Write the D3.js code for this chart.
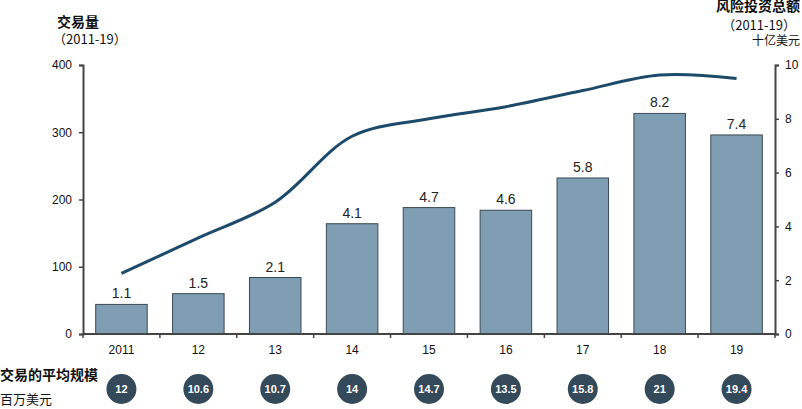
<!DOCTYPE html>
<html><head><meta charset="utf-8">
<script src="https://cdnjs.cloudflare.com/ajax/libs/d3/7.8.5/d3.min.js"></script>
<style>body{margin:0;background:#fff}svg{display:block;font-family:"Liberation Sans",Arial,sans-serif}</style>
</head><body><svg id="c" width="802" height="409"></svg>
<script>
const years = ["2011","12","13","14","15","16","17","18","19"];
const investment = [1.1,1.5,2.1,4.1,4.7,4.6,5.8,8.2,7.4];      // 十亿美元 (bars, right axis)
const dealCount = [90,143,196,294,320,338,362,385,380];        // 交易量 (line, left axis)
const avgSize = ["12","10.6","10.7","14","14.7","13.5","15.8","21","19.4"]; // 百万美元
const leftTicks = [0,100,200,300,400];
const rightTicks = [0,2,4,6,8,10];

const svg = d3.select("#c");
const m = {l:83, r:27, t:65, b:75};
const W = 802, H = 409;
const x = d3.scaleBand().domain(years).range([m.l, W-m.r]).paddingInner(0.33).paddingOuter(0.165);
const yL = d3.scaleLinear().domain([0,400]).range([H-m.b, m.t]);
const yR = d3.scaleLinear().domain([0,10]).range([H-m.b, m.t]);
const axisCol = "#444";

// bars
svg.append("g").selectAll("rect").data(investment).join("rect")
  .attr("x",(d,i)=>x(years[i])).attr("y",d=>yR(d))
  .attr("width",x.bandwidth()).attr("height",d=>yR(0)-yR(d))
  .attr("fill","#7f9db3").attr("stroke","#3c4954").attr("stroke-width",1);
svg.append("g").selectAll("text").data(investment).join("text")
  .attr("x",(d,i)=>x(years[i])+x.bandwidth()/2).attr("y",d=>yR(d)-6)
  .attr("text-anchor","middle").attr("font-size",14).attr("fill","#222")
  .text(d=>d.toFixed(1));

// line
const line = d3.line().x((d,i)=>x(years[i])+x.bandwidth()/2).y(d=>yL(d)).curve(d3.curveCatmullRom.alpha(0.5));
svg.append("path").datum(dealCount).attr("d",line).attr("fill","none")
  .attr("stroke","#1d4a6b").attr("stroke-width",3).attr("stroke-linecap","butt");

// axes
function styleAxis(g){
  g.select(".domain").attr("stroke",axisCol).attr("stroke-width",2);
  g.selectAll(".tick line").attr("stroke",axisCol).attr("stroke-width",1.5);
  g.selectAll(".tick text").attr("fill","#111").attr("font-size",12);
}
const gl = svg.append("g").attr("transform",`translate(${m.l},0)`)
  .call(d3.axisLeft(yL).tickValues(leftTicks).tickSize(4).tickSizeOuter(4).tickPadding(7));
styleAxis(gl);
const gr = svg.append("g").attr("transform",`translate(${W-m.r},0)`)
  .call(d3.axisRight(yR).tickValues(rightTicks).tickSize(4).tickSizeOuter(4).tickPadding(6));
styleAxis(gr);
// x axis with ticks at band boundaries
const xg = svg.append("g").attr("transform",`translate(0,${H-m.b})`);
xg.append("line").attr("x1",m.l).attr("x2",W-m.r).attr("stroke",axisCol).attr("stroke-width",2);
const bounds = d3.range(years.length+1).map(i=>m.l + (W-m.l-m.r)*i/years.length);
xg.selectAll(".bt").data(bounds).join("line").attr("x1",d=>d).attr("x2",d=>d)
  .attr("y1",0).attr("y2",4).attr("stroke",axisCol).attr("stroke-width",1.5);
xg.selectAll("text").data(years).join("text")
  .attr("x",d=>x(d)+x.bandwidth()/2).attr("y",20).attr("text-anchor","middle")
  .attr("font-size",12).attr("fill","#111").text(d=>d);

// titles
const cjk = "Noto Sans CJK SC";
svg.append("text").attr("x",57).attr("y",27).attr("font-size",14).attr("font-weight","bold")
  .attr("fill","#111").attr("font-family",cjk).text("交易量");
svg.append("text").attr("x",53).attr("y",44).attr("font-size",13)
  .attr("fill","#111").attr("font-family",cjk).text("（2011-19）");
svg.append("text").attr("x",800).attr("y",11).attr("text-anchor","end").attr("font-size",14).attr("font-weight","bold")
  .attr("fill","#111").attr("font-family",cjk).text("风险投资总额");
svg.append("text").attr("x",796).attr("y",30).attr("text-anchor","end").attr("font-size",13)
  .attr("fill","#111").attr("font-family",cjk).text("（2011-19）");
svg.append("text").attr("x",800).attr("y",45).attr("text-anchor","end").attr("font-size",12)
  .attr("fill","#111").attr("font-family",cjk).text("十亿美元");

// average deal size row
svg.append("text").attr("x",0).attr("y",380).attr("font-size",14).attr("font-weight","bold")
  .attr("fill","#111").attr("font-family",cjk).text("交易的平均规模");
svg.append("text").attr("x",0).attr("y",404).attr("font-size",13)
  .attr("fill","#111").attr("font-family",cjk).text("百万美元");
const cg = svg.append("g").selectAll("g").data(avgSize).join("g")
  .attr("transform",(d,i)=>`translate(${x(years[i])+x.bandwidth()/2},389)`);
cg.append("circle").attr("r",15).attr("fill","#34495a");
cg.append("text").attr("text-anchor","middle").attr("dy","0.36em").attr("font-size",11)
  .attr("font-weight","bold").attr("fill","#fff").text(d=>d);
</script></body></html>
